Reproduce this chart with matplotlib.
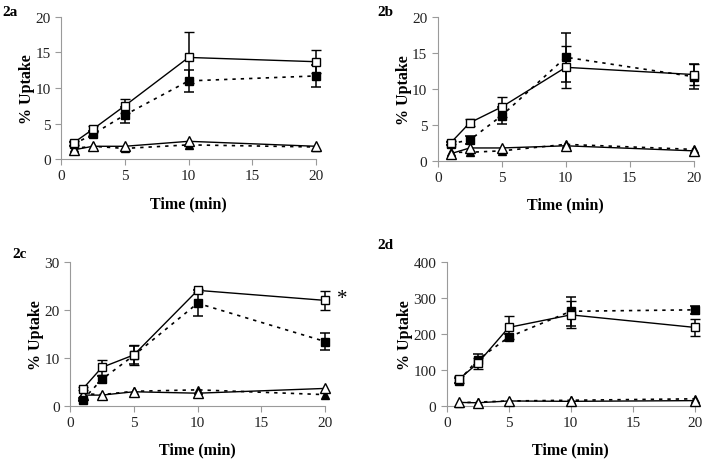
import matplotlib
matplotlib.use("Agg")
import matplotlib.pyplot as plt

plt.rcParams['font.family'] = ['Liberation Serif', 'DejaVu Serif']

times = [1, 2.5, 5, 10, 20]

# panel 2a
a_open_sq = [2.3, 4.2, 7.5, 14.3, 13.7]
a_open_sq_err = [0.3, 0.4, 1.0, 3.6, 1.6]
a_fill_sq = [2.1, 3.5, 6.2, 11.0, 11.7]
a_fill_sq_err = [0.3, 0.4, 1.1, 1.5, 1.6]
a_open_tri = [1.3, 1.8, 1.8, 2.5, 1.8]
a_fill_tri = [1.5, 1.8, 1.5, 2.0, 1.7]

# panel 2b
b_open_sq = [2.5, 5.3, 7.5, 13.0, 12.0]
b_open_sq_err = [0.2, 0.5, 1.4, 2.9, 1.4]
b_fill_sq = [2.4, 2.9, 6.3, 14.4, 11.7]
b_fill_sq_err = [0.2, 0.5, 1.2, 3.4, 1.7]
b_open_tri = [1.0, 1.8, 1.8, 2.1, 1.4]
b_fill_tri = [1.2, 1.2, 1.4, 2.3, 1.6]

# panel 2c
c_open_sq = [3.5, 8.0, 10.6, 24.1, 22.0]
c_open_sq_err = [0.3, 1.6, 2.1, 0.3, 2.0]
c_fill_sq = [1.2, 5.5, 10.5, 21.4, 13.4]
c_fill_sq_err = [0.3, 0.7, 1.9, 2.7, 1.7]
c_open_tri = [2.2, 2.2, 2.9, 2.6, 3.6]
c_fill_tri = [2.5, 2.3, 3.0, 3.3, 2.3]

# panel 2d
d_open_sq = [74, 118, 218, 253, 218]
d_open_sq_err = [10, 15, 33, 38, 24]
d_fill_sq = [70, 128, 191, 263, 267]
d_fill_sq_err = [8, 15, 10, 40, 12]
d_open_tri = [9, 8, 13, 12, 14]
d_fill_tri = [8, 10, 13, 15, 19]

panels = [
    ("2a", [0.0865, 0.652, 0.362, 0.309], 20, 5, (0.003, 0.972),
     a_open_sq, a_open_sq_err, a_fill_sq, a_fill_sq_err, a_open_tri, a_fill_tri),
    ("2b", [0.621, 0.648, 0.363, 0.313], 20, 5, (0.535, 0.972),
     b_open_sq, b_open_sq_err, b_fill_sq, b_fill_sq_err, b_open_tri, b_fill_tri),
    ("2c", [0.0993, 0.116, 0.362, 0.312], 30, 10, (0.017, 0.446),
     c_open_sq, c_open_sq_err, c_fill_sq, c_fill_sq_err, c_open_tri, c_fill_tri),
    ("2d", [0.6336, 0.116, 0.352, 0.312], 400, 100, (0.535, 0.467),
     d_open_sq, d_open_sq_err, d_fill_sq, d_fill_sq_err, d_open_tri, d_fill_tri),
]

grey = "#9a9a9a"
fig = plt.figure(figsize=(7.05, 4.6), dpi=100)

for name, rect, ymax, ystep, lpos, osq, osq_e, fsq, fsq_e, otri, ftri in panels:
    ax = fig.add_axes(rect)
    dash = (0, (2, 3))
    ax.plot(times, ftri, color="black", lw=1.2, ls=dash, marker="^", ms=6,
            mfc="black", mec="black", clip_on=False, zorder=3)
    ax.plot(times, otri, color="black", lw=1.0, ls="-", marker="^", ms=7,
            mfc="white", mec="black", mew=1.0, clip_on=False, zorder=4)
    ax.errorbar(times, fsq, yerr=fsq_e, color="black", lw=1.2, ls=dash,
                marker="s", ms=5.5, mfc="black", mec="black", capsize=3.5,
                elinewidth=1.1, capthick=1.1, clip_on=False, zorder=5)
    ax.errorbar(times, osq, yerr=osq_e, color="black", lw=1.0, ls="-",
                marker="s", ms=5.5, mfc="white", mec="black", mew=1.0,
                capsize=3.5, elinewidth=1.1, capthick=1.1, clip_on=False,
                zorder=6)

    ax.set_xlim(0, 20)
    ax.set_ylim(0, ymax)
    ax.set_xticks([0, 5, 10, 15, 20])
    ax.set_yticks(range(0, ymax + 1, ystep))
    for s in ["top", "right"]:
        ax.spines[s].set_visible(False)
    for s in ["left", "bottom"]:
        ax.spines[s].set_color(grey)
        ax.spines[s].set_linewidth(0.8)
    ax.tick_params(colors=grey, labelcolor="#222222", labelsize=11,
                   length=4, width=0.8, direction="out")
    ax.set_xlabel("Time (min)", fontsize=11.5, fontweight="bold", labelpad=9)
    ax.set_ylabel("% Uptake", fontsize=11.5, fontweight="bold", labelpad=0)

    fig.text(lpos[0], lpos[1], name, fontsize=11, fontweight="bold",
             va="center")

    if name == "2c":
        ax.text(20.9, 22.5, "*", fontsize=15, va="center", ha="left")

fig.savefig("out.png", dpi=100)
